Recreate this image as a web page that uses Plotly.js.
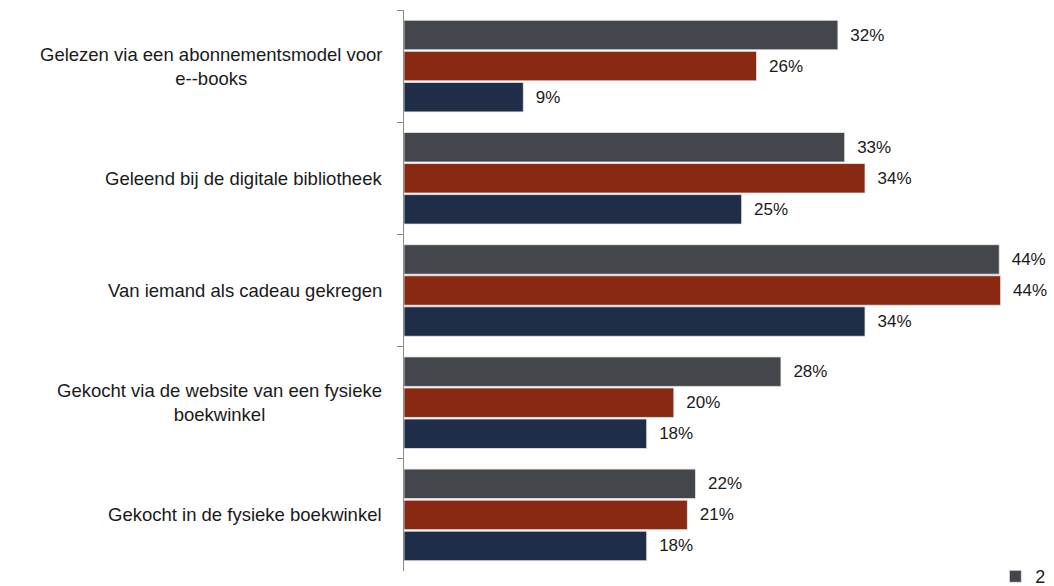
<!DOCTYPE html>
<html>
<head>
<meta charset="utf-8">
<script src="https://cdn.plot.ly/plotly-3.0.1.min.js"></script>
<style>
  html, body { margin: 0; padding: 0; background: #ffffff; }
  #chart { width: 1054px; height: 586px; }
</style>
</head>
<body>
<div id="chart"></div>
<script>
// Categories (top to bottom)
const categories = [
  "Gelezen via een abonnementsmodel voor<br>e--books",
  "Geleend bij de digitale bibliotheek",
  "Van iemand als cadeau gekregen",
  "Gekocht via de website van een fysieke<br>boekwinkel",
  "Gekocht in de fysieke boekwinkel"
];

// Series values (percent)
const seriesGray  = [32.0, 32.5, 43.9, 27.8, 21.5];
const seriesRed   = [26.0, 34.0, 44.0, 19.9, 20.9];
const seriesNavy  = [8.8, 24.9, 34.0, 17.9, 17.9];

// Data labels as printed
const labelsGray = ["32%", "33%", "44%", "28%", "22%"];
const labelsRed  = ["26%", "34%", "44%", "20%", "21%"];
const labelsNavy = ["9%", "25%", "34%", "18%", "18%"];

const seriesNames = ["2", "", ""];
const colors = ["#43464b", "#8a2912", "#1f2d48"];

const FONT = "Liberation Sans, Arial, sans-serif";
const pad = "\u00a0\u00a0";
function mk(vals, labels, name, color, show) {
  return {
    type: "bar",
    orientation: "h",
    x: vals,
    y: categories,
    name: name,
    showlegend: show,
    marker: { color: color, line: { color: "#e8e8e8", width: 0.8 } },
    text: labels.map(l => pad + l),
    textposition: "outside",
    cliponaxis: false,
    textfont: { family: FONT, size: 17, color: "#1a1a1a" },
    hoverinfo: "skip"
  };
}

const data = [
  mk(seriesGray, labelsGray, seriesNames[0], colors[0], true),
  mk(seriesRed, labelsRed, seriesNames[1], colors[1], false),
  mk(seriesNavy, labelsNavy, seriesNames[2], colors[2], false)
];

const annotations = categories.map(c => ({
  xref: "paper", yref: "y",
  x: 0, y: c,
  xanchor: "right", yanchor: "middle",
  xshift: -20,
  align: "center",
  text: c,
  showarrow: false,
  font: { family: FONT, size: 18.5, color: "#1a1a1a" }
}));

const layout = {
  width: 1054, height: 586,
  margin: { l: 404, r: 10, t: 10, b: 15, autoexpand: false },
  paper_bgcolor: "#ffffff",
  plot_bgcolor: "#ffffff",
  barmode: "group",
  bargap: 0.17,
  bargroupgap: 0.05,
  font: { family: FONT, size: 17, color: "#1a1a1a" },
  xaxis: {
    range: [0, 47.2],
    showgrid: false, zeroline: false, showline: false,
    showticklabels: false, ticks: "", automargin: false
  },
  yaxis: {
    type: "category",
    range: [4.5, -0.5],
    showgrid: false, zeroline: false,
    showline: true, linecolor: "#8a8a8a", linewidth: 1,
    ticks: "outside", tickson: "boundaries", ticklen: 6, tickcolor: "#8a8a8a",
    showticklabels: false, automargin: false
  },
  showlegend: true,
  legend: {
    x: 0.924, xanchor: "left",
    y: -0.01, yanchor: "middle",
    bgcolor: "rgba(0,0,0,0)",
    font: { family: FONT, size: 18, color: "#1a1a1a" },
    itemwidth: 30
  },
  annotations: annotations
};

Plotly.newPlot("chart", data, layout, { displayModeBar: false, staticPlot: true });
</script>
</body>
</html>
